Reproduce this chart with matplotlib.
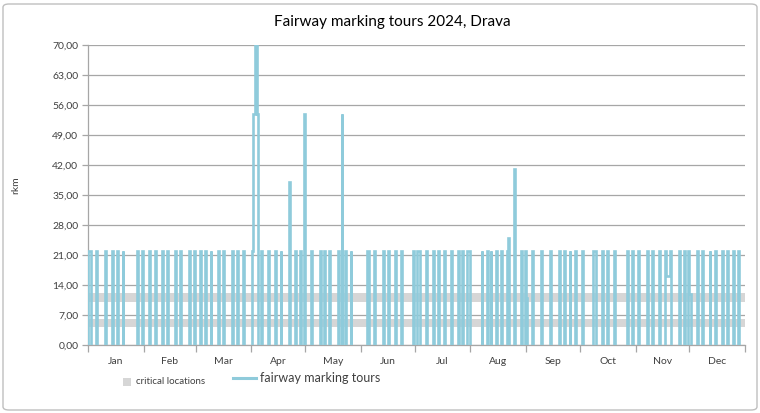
import numpy as np
import pandas as pd
import matplotlib
matplotlib.use("Agg")
import matplotlib.pyplot as plt
from matplotlib.lines import Line2D
from matplotlib.patches import Rectangle, FancyBboxPatch

plt.rcParams['font.family'] = ['Lato', 'DejaVu Sans']

# ---------------- data ----------------
months = ['Jan', 'Feb', 'Mar', 'Apr', 'May', 'Jun',
          'Jul', 'Aug', 'Sep', 'Oct', 'Nov', 'Dec']

tour_dates = [
    '01-01', '01-02', '01-05', '01-10', '01-14', '01-17', '01-20', '01-28', '01-31',
    '02-04', '02-07', '02-11', '02-14', '02-18', '02-21', '02-26', '02-29',
    '03-03', '03-06', '03-09', '03-13', '03-16', '03-21', '03-24', '03-27',
    '04-01', '04-02', '04-03', '04-04', '04-06', '04-10', '04-14', '04-17',
    '04-22', '04-25', '04-28', '04-30',
    '05-04', '05-09', '05-11', '05-14', '05-19', '05-21', '05-23', '05-26',
    '06-04', '06-05', '06-08', '06-13', '06-16', '06-20', '06-23', '06-30',
    '07-02', '07-03', '07-07', '07-11', '07-14', '07-17', '07-21', '07-25',
    '07-27', '07-30', '07-31',
    '08-07', '08-10', '08-12', '08-15', '08-18', '08-21', '08-22', '08-25',
    '08-29', '08-31', '09-01', '09-04',
    '09-09', '09-14', '09-19', '09-22', '09-25', '09-28',
    '10-02', '10-08', '10-09', '10-13', '10-16', '10-20', '10-27', '10-30',
    '11-02', '11-07', '11-10', '11-14', '11-17', '11-18', '11-19', '11-20',
    '11-25', '11-28', '11-30', '12-01',
    '12-05', '12-08', '12-12', '12-15', '12-19', '12-22', '12-25', '12-28',
]
tour_rkm = [
    22, 22, 22, 22, 22, 22, 22, 22, 22,
    22, 22, 22, 22, 22, 22, 22, 22,
    22, 22, 22, 22, 22, 22, 22, 22,
    22, 54, 70, 54, 22, 22, 22, 22,
    38, 22, 22, 54,
    22, 22, 22, 22, 22, 54, 22, 22,
    22, 22, 22, 22, 22, 22, 22, 22,
    22, 22, 22, 22, 22, 22, 22, 22,
    22, 22, 22,
    22, 22, 22, 22, 22, 22, 25, 41,
    22, 22, 11, 22,
    22, 22, 22, 22, 22, 22,
    22, 22, 22, 22, 22, 22, 22, 22,
    22, 22, 22, 22, 22, 16, 16, 22,
    22, 22, 22, 12,
    22, 22, 22, 22, 22, 22, 22, 22,
]

critical_from = [4.1, 10.1]
critical_to = [6.0, 12.1]

y_ticks = [0, 7, 14, 21, 28, 35, 42, 49, 56, 63, 70]

# ---------------- build tour outlines (one polyline per run of days) ----------------
days = pd.date_range('2024-01-01', '2024-12-31', freq='D')
day_idx = np.array([(pd.Timestamp('2024-' + d) - days[0]).days for d in tour_dates])
vals = np.array(tour_rkm, dtype=float)
order = np.argsort(day_idx)
day_idx, vals = day_idx[order], vals[order]

inset = 0.25
px, py = [], []
i = 0
while i < len(day_idx):
    j = i
    while j + 1 < len(day_idx) and day_idx[j + 1] == day_idx[j] + 1:
        j += 1
    run_d, run_v = day_idx[i:j + 1], vals[i:j + 1]
    px += [run_d[0] + inset, run_d[0] + inset]
    py += [0, run_v[0]]
    for k in range(1, len(run_d)):
        px += [run_d[k], run_d[k]]
        py += [run_v[k - 1], run_v[k]]
    px += [run_d[-1] + 1 - inset, run_d[-1] + 1 - inset, np.nan]
    py += [run_v[-1], 0, np.nan]
    i = j + 1

month_starts = list(np.where(days.is_month_start)[0]) + [len(days)]
month_centers = [(a + b) / 2 for a, b in zip(month_starts[:-1], month_starts[1:])]

# ---------------- figure ----------------
W, H = 760, 413
fig = plt.figure(figsize=(W / 100, H / 100), dpi=100)
ax = fig.add_axes([88 / W, 1 - 345 / H, 657 / W, 300 / H])

line_col = '#8FCBDB'
grid_col = '#A6A6A6'

for lo, hi in zip(critical_from, critical_to):
    ax.axhspan(lo, hi, color='#D6D6D6', lw=0, zorder=0.6)

ax.plot(px, py, color=line_col, lw=1.9, zorder=3, solid_joinstyle='miter')

ax.set_xlim(0, len(days))
ax.set_ylim(0, 70)
ax.set_yticks(y_ticks)
ax.set_yticklabels([f"{v:.2f}".replace('.', ',') for v in y_ticks],
                   fontsize=7.5, color='#404040')
ax.yaxis.grid(True, color=grid_col, lw=0.9)
ax.set_axisbelow(True)

ax.set_xticks(month_starts)
ax.set_xticklabels([])
ax.set_xticks(month_centers, minor=True)
ax.set_xticklabels(months, minor=True, fontsize=7.5, color='#404040')
ax.tick_params(axis='x', which='major', length=5, color=grid_col, width=0.9)
ax.tick_params(axis='x', which='minor', length=0, pad=9)
ax.tick_params(axis='y', length=4, color=grid_col, width=0.9, pad=3)

for s in ['top', 'right']:
    ax.spines[s].set_visible(False)
for s in ['left', 'bottom']:
    ax.spines[s].set_color(grid_col)
    ax.spines[s].set_linewidth(0.9)

fig.text(392 / W, 1 - 22 / H, 'Fairway marking tours 2024, Drava',
         ha='center', va='center', fontsize=11, color='#000000')
fig.text(16 / W, 1 - 185 / H, 'rkm', rotation=90, ha='center', va='center',
         fontsize=7.5, color='#404040')

# legend
fig.add_artist(Rectangle((123 / W, 1 - 386 / H), 8 / W, 8 / H,
                         transform=fig.transFigure, color='#D6D6D6', lw=0))
fig.text(136 / W, 1 - 382 / H, 'critical locations', ha='left', va='center',
         fontsize=7, color='#404040')
fig.add_artist(Line2D([233 / W, 256 / W], [1 - 378 / H] * 2,
                      transform=fig.transFigure, color=line_col, lw=2.2))
fig.text(260 / W, 1 - 378 / H, 'fairway marking tours', ha='left', va='center',
         fontsize=9, color='#404040')

fig.add_artist(FancyBboxPatch((3 / W, 3 / H), 754 / W, 406 / H,
                              boxstyle='round,pad=0,rounding_size=0.008',
                              transform=fig.transFigure, fill=False,
                              ec='#BFBFBF', lw=1))

fig.savefig('out.png', dpi=100)
